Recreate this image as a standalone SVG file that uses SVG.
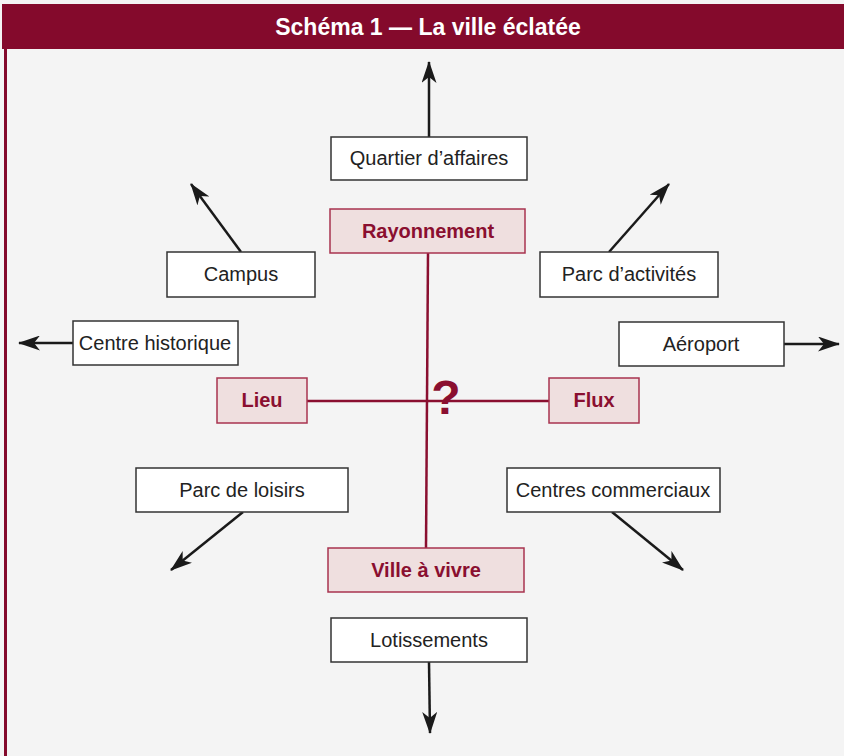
<svg xmlns="http://www.w3.org/2000/svg" width="844" height="756" viewBox="0 0 844 756">
<style>
.bg{fill:#f4f4f4}
.box rect{fill:#ffffff;stroke:#333333;stroke-width:1.5}
.box text{font-family:"Liberation Sans",Arial,sans-serif;font-size:20px;fill:#222222;text-anchor:middle}
.key rect{fill:#efdfdf;stroke:#a8334f;stroke-width:1.5}
.key text{font-family:"Liberation Sans",Arial,sans-serif;font-size:20px;font-weight:bold;fill:#8a0f30;text-anchor:middle}
.arr{stroke:#1a1a1a;stroke-width:2.5;fill:none;marker-end:url(#ah)}
.axis{stroke:#8a0f30;stroke-width:2.5;fill:none}
</style>
<defs>
<marker id="ah" viewBox="0 0 22 15" refX="21" refY="7.5" markerWidth="22" markerHeight="15" markerUnits="userSpaceOnUse" orient="auto">
<path d="M0,0 L22,7.5 L0,15 L6,7.5 Z" fill="#1a1a1a"/>
</marker>
</defs>
<rect class="bg" x="0" y="0" width="844" height="756"/>
<rect x="2" y="4" width="842" height="45" fill="#840a2c"/>
<rect x="4" y="49" width="3" height="707" fill="#840a2c"/>
<text x="428" y="35" font-family="Liberation Sans,Arial,sans-serif" font-size="23" font-weight="bold" fill="#ffffff" text-anchor="middle">Schéma 1 — La ville éclatée</text>

<g id="connectors">
<line class="arr" x1="429" y1="137" x2="429" y2="62"/>
<line class="arr" x1="429" y1="662" x2="430" y2="733"/>
<line class="arr" x1="241" y1="252" x2="191" y2="184"/>
<line class="arr" x1="609" y1="252" x2="669" y2="184"/>
<line class="arr" x1="73" y1="343" x2="19" y2="343"/>
<line class="arr" x1="784" y1="344" x2="839" y2="344"/>
<line class="arr" x1="243" y1="512" x2="171" y2="570"/>
<line class="arr" x1="612" y1="512" x2="683" y2="570"/>
<line class="axis" x1="428" y1="253" x2="426" y2="548"/>
<line class="axis" x1="307" y1="401" x2="549" y2="401"/>
</g>

<g id="q-mark"><text x="446" y="414" font-family="Liberation Sans,Arial,sans-serif" font-size="48" font-weight="bold" fill="#8a0f30" text-anchor="middle">?</text></g>

<g id="quartier" class="box"><rect x="331" y="137" width="196" height="43"/><text x="429" y="165">Quartier d’affaires</text></g>
<g id="rayonnement" class="key"><rect x="330" y="209" width="195" height="44"/><text x="428" y="238">Rayonnement</text></g>
<g id="campus" class="box"><rect x="167" y="252" width="148" height="45"/><text x="241" y="281">Campus</text></g>
<g id="parc-activites" class="box"><rect x="540" y="252" width="178" height="45"/><text x="629" y="281">Parc d’activités</text></g>
<g id="centre-historique" class="box"><rect x="73" y="321" width="165" height="44"/><text x="155" y="350">Centre historique</text></g>
<g id="aeroport" class="box"><rect x="619" y="322" width="165" height="44"/><text x="701" y="351">Aéroport</text></g>
<g id="lieu" class="key"><rect x="217" y="378" width="90" height="45"/><text x="262" y="407">Lieu</text></g>
<g id="flux" class="key"><rect x="549" y="378" width="90" height="45"/><text x="594" y="407">Flux</text></g>
<g id="parc-loisirs" class="box"><rect x="136" y="468" width="212" height="44"/><text x="242" y="497">Parc de loisirs</text></g>
<g id="centres-commerciaux" class="box"><rect x="507" y="468" width="213" height="44"/><text x="613" y="497">Centres commerciaux</text></g>
<g id="ville-a-vivre" class="key"><rect x="328" y="548" width="196" height="44"/><text x="426" y="577">Ville à vivre</text></g>
<g id="lotissements" class="box"><rect x="331" y="618" width="196" height="44"/><text x="429" y="647">Lotissements</text></g>
</svg>
